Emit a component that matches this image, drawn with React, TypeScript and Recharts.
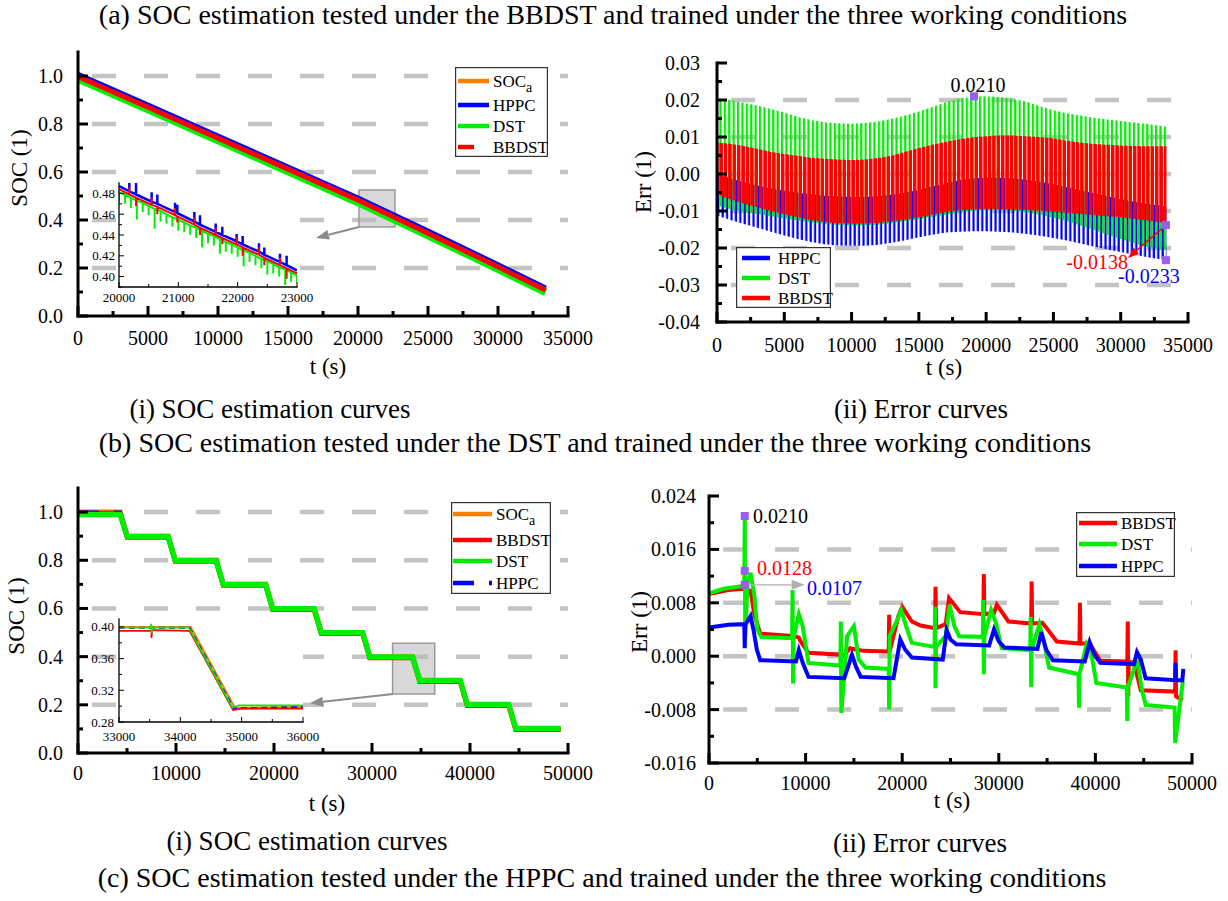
import React from 'react';
import {
  ComposedChart,
  Line,
  Area,
  XAxis,
  YAxis,
  CartesianGrid,
  ReferenceArea,
  ReferenceLine,
  ReferenceDot,
} from 'recharts';

const FONT = '"Liberation Serif", "Times New Roman", serif';
const C = { soc: '#ff8000', hppc: '#0000ff', dst: '#00ee00', bbdst: '#ff0000', mark: '#9b5cf0', gray: '#8c8c8c' };

// ---------- (a)(i) SOC curves, BBDST test ----------
const a1T = [0, 5000, 10000, 15000, 20000, 25000, 30000, 33400];
const a1Soc = [1.0, 0.872, 0.743, 0.614, 0.485, 0.347, 0.207, 0.11];
const a1Hppc = [1.007, 0.879, 0.75, 0.621, 0.492, 0.354, 0.214, 0.117];
const a1Dst = [0.988, 0.86, 0.731, 0.602, 0.473, 0.335, 0.195, 0.098];
const a1Bbdst = [0.998, 0.87, 0.741, 0.612, 0.483, 0.345, 0.205, 0.108];

// inset 20000-23000 s
const in1SpikeT = [20000, 20174, 20287, 20550, 20646, 20944, 20983, 21270, 21365, 21629, 21741, 21983, 22084, 22359, 22449, 22713, 22825, 23000];
const in1HppcBase = [0.487, 0.482, 0.479, 0.472, 0.47, 0.462, 0.461, 0.453, 0.45, 0.443, 0.44, 0.434, 0.431, 0.424, 0.421, 0.414, 0.411, 0.406];
const in1HppcTip = [0.487, 0.491, 0.49, 0.481, 0.479, 0.471, 0.469, 0.462, 0.459, 0.451, 0.448, 0.441, 0.439, 0.432, 0.428, 0.422, 0.42, 0.406];
const in1BbdstBase = [0.484, 0.479, 0.476, 0.469, 0.467, 0.459, 0.458, 0.45, 0.447, 0.44, 0.437, 0.431, 0.428, 0.421, 0.418, 0.411, 0.408, 0.403];
const in1BbdstTip = [0.484, 0.486, 0.468, 0.476, 0.46, 0.466, 0.452, 0.457, 0.44, 0.447, 0.431, 0.438, 0.42, 0.428, 0.411, 0.418, 0.398, 0.403];
const in1DstT = [20000, 20100, 20200, 20300, 20400, 20500, 20600, 20700, 20800, 20900, 21000, 21100, 21200, 21300, 21400, 21500, 21600, 21700, 21800, 21900, 22000, 22100, 22200, 22300, 22400, 22500, 22600, 22700, 22800, 22900, 23000];
const in1DstBase = [0.481, 0.479, 0.476, 0.473, 0.471, 0.468, 0.465, 0.463, 0.46, 0.457, 0.455, 0.452, 0.449, 0.447, 0.444, 0.441, 0.439, 0.436, 0.433, 0.431, 0.428, 0.425, 0.423, 0.42, 0.417, 0.415, 0.412, 0.409, 0.407, 0.404, 0.401];
const in1DstTip = [0.472, 0.47, 0.466, 0.455, 0.462, 0.459, 0.446, 0.453, 0.451, 0.448, 0.444, 0.443, 0.44, 0.437, 0.428, 0.432, 0.43, 0.422, 0.424, 0.422, 0.419, 0.41, 0.414, 0.411, 0.408, 0.402, 0.403, 0.4, 0.392, 0.395, 0.394];

// ---------- (a)(ii) error curves: upper / lower envelope of each oscillating trace ----------
const a2T = [0, 1000, 2000, 3000, 4000, 5000, 6000, 7000, 8000, 9000, 10000, 11000, 12000, 13000, 14000, 15000, 16000, 17000, 18000, 19000, 20000, 21000, 22000, 23000, 24000, 25000, 26000, 27000, 28000, 29000, 30000, 31000, 32000, 33400];
const a2HppcHi = [0.0, -0.0012, -0.0022, -0.0031, -0.0039, -0.0045, -0.0051, -0.0055, -0.0059, -0.0061, -0.0062, -0.0062, -0.006, -0.0056, -0.005, -0.0043, -0.0034, -0.0025, -0.0017, -0.0012, -0.001, -0.001, -0.0012, -0.0016, -0.0021, -0.0028, -0.0036, -0.0044, -0.0052, -0.006, -0.0068, -0.0075, -0.0081, -0.0088];
const a2HppcLo = [-0.0112, -0.0124, -0.0135, -0.0145, -0.0156, -0.0166, -0.0176, -0.0184, -0.019, -0.0193, -0.0194, -0.0194, -0.0191, -0.0186, -0.0179, -0.0171, -0.0164, -0.0158, -0.0156, -0.0155, -0.0155, -0.0156, -0.0158, -0.0162, -0.0167, -0.0173, -0.018, -0.0188, -0.0196, -0.0204, -0.0211, -0.0218, -0.0225, -0.0233];
const a2DstHi = [0.0205, 0.02, 0.0192, 0.0185, 0.0176, 0.0166, 0.0155, 0.0146, 0.014, 0.0137, 0.0136, 0.0138, 0.0142, 0.0149, 0.0158, 0.0169, 0.0181, 0.0194, 0.0204, 0.0209, 0.021, 0.0208, 0.0203, 0.0195, 0.0183, 0.0172, 0.0164, 0.0158, 0.0152, 0.0147, 0.0143, 0.0139, 0.0135, 0.0128];
const a2DstLo = [-0.0085, -0.0095, -0.0102, -0.0108, -0.0114, -0.012, -0.0126, -0.0131, -0.0135, -0.0138, -0.0139, -0.0139, -0.0137, -0.0133, -0.0128, -0.0122, -0.0116, -0.011, -0.0104, -0.01, -0.0098, -0.0098, -0.01, -0.0104, -0.011, -0.0118, -0.0128, -0.0139, -0.0151, -0.0164, -0.0176, -0.0187, -0.0197, -0.0206];
const a2BbdstHi = [0.0085, 0.0082, 0.0076, 0.0068, 0.006, 0.0054, 0.0049, 0.0044, 0.0041, 0.0039, 0.0038, 0.0039, 0.0043, 0.005, 0.006, 0.007, 0.0079, 0.0087, 0.0094, 0.0099, 0.0102, 0.0104, 0.0104, 0.0102, 0.01, 0.0096, 0.009, 0.0085, 0.0081, 0.0079, 0.0077, 0.0076, 0.0075, 0.0075];
const a2BbdstLo = [-0.0055, -0.0068, -0.008, -0.009, -0.01, -0.0109, -0.0117, -0.0124, -0.013, -0.0133, -0.0134, -0.0134, -0.0132, -0.0128, -0.0123, -0.0117, -0.011, -0.0103, -0.0098, -0.0095, -0.0094, -0.0095, -0.0096, -0.0097, -0.0099, -0.0102, -0.0105, -0.0108, -0.0111, -0.0114, -0.0117, -0.0121, -0.0126, -0.0133];

// ---------- (b)(i) SOC curves, DST test ----------
const b1T = [0, 4300, 5020, 9200, 9920, 14100, 14820, 19150, 19870, 24100, 24820, 29050, 29770, 34150, 34870, 39000, 39720, 43950, 44670, 49250];
const b1Soc = [1.0, 1.0, 0.9, 0.9, 0.8, 0.8, 0.7, 0.7, 0.6, 0.6, 0.5, 0.5, 0.4, 0.4, 0.3, 0.3, 0.2, 0.2, 0.1, 0.1];
const b1Bbdst = [0.995, 0.995, 0.896, 0.896, 0.796, 0.796, 0.696, 0.696, 0.596, 0.596, 0.496, 0.496, 0.395, 0.395, 0.297, 0.297, 0.197, 0.197, 0.098, 0.098];
const b1Dst = [0.99, 0.99, 0.899, 0.899, 0.799, 0.799, 0.699, 0.699, 0.599, 0.599, 0.499, 0.499, 0.399, 0.399, 0.301, 0.301, 0.201, 0.201, 0.102, 0.102];
const b1Hppc = [0.998, 0.998, 0.901, 0.901, 0.801, 0.801, 0.701, 0.701, 0.601, 0.601, 0.501, 0.501, 0.399, 0.399, 0.299, 0.299, 0.201, 0.201, 0.101, 0.101];

// inset 33000-36000 s
const in2Soc: [number, number][] = [[33000, 0.4], [34170, 0.4], [34890, 0.298], [36000, 0.299]];
const in2Hppc: [number, number][] = [[33000, 0.399], [34150, 0.399], [34870, 0.297], [36000, 0.299]];
const in2Bbdst: [number, number][] = [[33000, 0.395], [33530, 0.395], [33530, 0.386], [33540, 0.396], [34150, 0.395], [34860, 0.295], [35000, 0.297], [36000, 0.297]];
const in2Dst: [number, number][] = [[33000, 0.399], [33520, 0.399], [33525, 0.404], [33535, 0.392], [33545, 0.399], [34140, 0.399], [34850, 0.298], [34950, 0.301], [36000, 0.301]];

// ---------- (b)(ii) error curves ----------
const b2Bbdst: [number, number][] = [
  [0, 0.0093], [2000, 0.0099], [3600, 0.0101], [4300, 0.0098], [4700, 0.0062], [5300, 0.0034], [8900, 0.003], [9300, 0.0028],
  [9500, 0.0022], [10300, 0.0005], [14000, 0.0002], [14600, 0.0012], [15200, 0.001], [16000, 0.0008], [18600, 0.0007],
  [18650, 0.0062], [18700, 0.0007], [19600, 0.006], [20000, 0.0074], [21000, 0.0052], [21900, 0.0046], [23400, 0.0042],
  [23450, 0.0104], [23500, 0.0042], [24500, 0.0048], [24850, 0.0087], [26000, 0.0066], [28400, 0.0063], [28450, 0.0123],
  [28500, 0.0063], [29500, 0.0065], [29800, 0.0077], [31000, 0.0052], [33350, 0.0049], [33400, 0.0112], [33450, 0.0049],
  [34500, 0.005], [34800, 0.0045], [36000, 0.0022], [38350, 0.0019], [38400, 0.008], [38450, 0.0019], [39100, 0.0019],
  [39500, 0.0017], [40500, -0.0007], [43300, -0.0008], [43350, 0.0052], [43400, -0.006], [43450, -0.0008], [44000, -0.001],
  [44700, -0.0051], [48250, -0.0053], [48300, 0.0009], [48350, -0.006], [49050, -0.0066],
];
const b2Dst: [number, number][] = [
  [0, 0.0094], [1500, 0.0101], [3500, 0.0105], [3650, 0.0105], [3700, 0.021], [3750, 0.003], [4000, 0.011], [4300, 0.0125],
  [4700, 0.009], [5000, 0.004], [5400, 0.0029], [8600, 0.0027], [8650, 0.0099], [8700, -0.0041], [8750, 0.0027], [9300, 0.0063],
  [9700, 0.0045], [10300, -0.001], [13600, -0.0014], [13650, 0.0052], [13700, -0.0085], [14300, 0.003], [15000, 0.0045],
  [15500, -0.0005], [16200, -0.0017], [18600, -0.0019], [18650, -0.008], [18700, 0.003], [19500, 0.0055], [19900, 0.0069],
  [20400, 0.0045], [21000, 0.002], [23350, 0.0014], [23400, 0.0074], [23450, -0.0048], [23500, 0.0014], [24500, 0.003],
  [24900, 0.0077], [25400, 0.0045], [25900, 0.003], [28350, 0.0029], [28400, 0.0084], [28450, -0.0027], [28500, 0.0029],
  [29200, 0.0069], [29700, 0.005], [30300, 0.0012], [33250, 0.0009], [33300, 0.0059], [33350, -0.0046], [33400, 0.0009],
  [34200, 0.0048], [34700, 0.002], [35200, -0.0017], [38250, -0.0027], [38300, -0.0077], [38350, -0.0027], [39100, 0.0019],
  [39500, 0.001], [40100, -0.004], [43250, -0.0047], [43300, -0.0097], [43350, -0.0047], [44100, -0.0015], [44400, -0.001],
  [44800, -0.005], [45200, -0.0073], [48200, -0.0077], [48250, -0.013], [49050, -0.0038],
];
const b2Hppc: [number, number][] = [
  [0, 0.0043], [2000, 0.0047], [3650, 0.0048], [3700, 0.0012], [3750, 0.0047], [4300, 0.006], [4600, 0.004], [4950, 0.001],
  [5300, -0.0006], [9000, -0.0008], [9300, 0.0009], [9700, -0.001], [10300, -0.0031], [14000, -0.0033], [14800, 0.0002],
  [15200, -0.0015], [15700, -0.0031], [19100, -0.0033], [19800, 0.0025], [20300, 0.001], [21000, -0.0002], [24200, -0.0005],
  [24600, 0.0039], [25000, 0.0025], [25600, 0.0018], [29000, 0.0016], [29500, 0.004], [30000, 0.0022], [30600, 0.0013],
  [34000, 0.0011], [34400, 0.0036], [34900, 0.001], [35600, -0.0006], [38900, -0.0008], [39400, 0.0021], [39900, 0.0002],
  [40500, -0.001], [44000, -0.0012], [44300, 0.0006], [44700, -0.0005], [45200, -0.0033], [48250, -0.0036], [48300, -0.001],
  [48350, -0.0036], [49000, -0.0036], [49100, -0.0019],
];

// ---------- axes ----------
type Ax = { domain: [number, number]; ticks: number[]; majors: number[]; digits: number; gap: number };
const xA1: Ax = { domain: [0, 35000], ticks: [0, 2500, 5000, 7500, 10000, 12500, 15000, 17500, 20000, 22500, 25000, 27500, 30000, 32500, 35000], majors: [0, 5000, 10000, 15000, 20000, 25000, 30000, 35000], digits: 0, gap: 22 };
const yA1: Ax = { domain: [0, 1.1], ticks: [0, 0.1, 0.2, 0.3, 0.4, 0.5, 0.6, 0.7, 0.8, 0.9, 1.0], majors: [0, 0.2, 0.4, 0.6, 0.8, 1.0], digits: 1, gap: 15 };
const xA2: Ax = { ...xA1, gap: 23 };
const yA2: Ax = { domain: [-0.04, 0.03], ticks: [-0.04, -0.035, -0.03, -0.025, -0.02, -0.015, -0.01, -0.005, 0, 0.005, 0.01, 0.015, 0.02, 0.025, 0.03], majors: [-0.04, -0.03, -0.02, -0.01, 0, 0.01, 0.02, 0.03], digits: 2, gap: 17 };
const xB1: Ax = { domain: [0, 50000], ticks: [0, 5000, 10000, 15000, 20000, 25000, 30000, 35000, 40000, 45000, 50000], majors: [0, 10000, 20000, 30000, 40000, 50000], digits: 0, gap: 20 };
const yB1: Ax = { ...yA1 };
const xB2: Ax = { ...xB1 };
const yB2: Ax = { domain: [-0.016, 0.024], ticks: [-0.016, -0.012, -0.008, -0.004, 0, 0.004, 0.008, 0.012, 0.016, 0.02, 0.024], majors: [-0.016, -0.008, 0, 0.008, 0.016, 0.024], digits: 3, gap: 13 };
const xIn1: Ax = { domain: [20000, 23000], ticks: [20000, 20500, 21000, 21500, 22000, 22500, 23000], majors: [20000, 21000, 22000, 23000], digits: 0, gap: 10 };
const yIn1: Ax = { domain: [0.39, 0.49], ticks: [0.39, 0.4, 0.41, 0.42, 0.43, 0.44, 0.45, 0.46, 0.47, 0.48], majors: [0.4, 0.42, 0.44, 0.46, 0.48], digits: 2, gap: 4 };
const xIn2: Ax = { domain: [33000, 36000], ticks: [33000, 33500, 34000, 34500, 35000, 35500, 36000], majors: [33000, 34000, 35000, 36000], digits: 0, gap: 14 };
const yIn2: Ax = { domain: [0.28, 0.41], ticks: [0.28, 0.3, 0.32, 0.34, 0.36, 0.38, 0.4], majors: [0.28, 0.32, 0.36, 0.4], digits: 2, gap: 5 };

const gridSoc = [0.2, 0.4, 0.6, 0.8, 1.0];
const gridA2 = [0.02, 0.01, 0, -0.01, -0.02, -0.03];
const gridB2 = [0.016, 0.008, 0, -0.008];

// ---------- helpers ----------
type Pt = { t: number; v: number };
const zip = (t: number[], v: number[]): Pt[] => t.map((ti, i) => ({ t: ti, v: v[i] }));
const pairs = (p: [number, number][]): Pt[] => p.map(([t, v]) => ({ t, v }));
const spikes = (t: number[], base: number[], tip: number[]): Pt[] =>
  t.flatMap((ti, i) => [{ t: ti, v: base[i] }, { t: ti, v: tip[i] }, { t: ti, v: base[i] }]);
const band = (lo: number[], hi: number[]) => a2T.map((t, i) => ({ t, r: [lo[i], hi[i]] }));

type Sty = { frame: number; tw: number; major: number; minor: number; font: number };
const MAIN: Sty = { frame: 3, tw: 3, major: 10, minor: 5, font: 20 };
const INSET: Sty = { frame: 1.3, tw: 1, major: 5, minor: 3, font: 13 };

const isMajor = (ax: Ax, v: number) => ax.majors.some((m) => Math.abs(m - v) < 1e-9);

function tick(side: 'bottom' | 'top' | 'left' | 'right', ax: Ax, st: Sty) {
  return (p: any) => {
    const v = p.payload.value as number;
    const mj = isMajor(ax, v);
    const len = mj ? st.major : st.minor;
    const x = p.x as number;
    const y = p.y as number;
    const dx = side === 'left' ? len : side === 'right' ? -len : 0;
    const dy = side === 'bottom' ? -len : side === 'top' ? len : 0;
    const ts = { fontFamily: FONT, fontSize: st.font };
    let label: React.ReactNode = null;
    if (mj && side === 'bottom')
      label = (
        <text x={x} y={y + ax.gap} dy="0.35em" textAnchor="middle" style={ts} fill="#000">
          {v.toFixed(ax.digits)}
        </text>
      );
    if (mj && side === 'left')
      label = (
        <text x={x - ax.gap} y={y} dy="0.35em" textAnchor="end" style={ts} fill="#000">
          {v.toFixed(ax.digits)}
        </text>
      );
    return (
      <g>
        <line x1={x} y1={y} x2={x + dx} y2={y + dy} stroke="#000" strokeWidth={st.tw} />
        {label}
      </g>
    );
  };
}

function Panel(props: {
  box: [number, number, number, number];
  x: Ax;
  y: Ax;
  st: Sty;
  grid?: number[];
  white?: boolean;
  children?: React.ReactNode;
}) {
  const [left, top, w, h] = props.box;
  const { x, y, st } = props;
  const L = 90, R = 44, T = 14, B = 44;
  const line = { stroke: '#000', strokeWidth: st.frame, strokeLinecap: 'square' as const };
  return (
    <div style={{ position: 'absolute', left: left - L, top: top - T, width: w + L + R, height: h + T + B }}>
      {props.white && <div style={{ position: 'absolute', left: L, top: T, width: w, height: h, background: '#fff' }} />}
      <div style={{ position: 'absolute', left: 0, top: 0 }}>
        <ComposedChart width={w + L + R} height={h + T + B} margin={{ top: T, right: R, bottom: 0, left: 0 }}>
          {props.grid && (
            <CartesianGrid
              vertical={false}
              horizontalValues={props.grid}
              stroke="#c4c4c4"
              strokeWidth={4.5}
              strokeDasharray="24 28"
              strokeDashoffset={38}
            />
          )}
          <XAxis dataKey="t" type="number" domain={x.domain} ticks={x.ticks} interval={0} tickSize={0} tickMargin={0} height={B} axisLine={line} tickLine={false} tick={tick('bottom', x, st)} allowDataOverflow />
          <XAxis xAxisId="top" orientation="top" dataKey="t" type="number" domain={x.domain} ticks={x.ticks} interval={0} tickSize={0} tickMargin={0} height={0} axisLine={line} tickLine={false} tick={tick('top', x, st)} allowDataOverflow />
          <YAxis type="number" domain={y.domain} ticks={y.ticks} interval={0} tickSize={0} tickMargin={0} width={L} axisLine={line} tickLine={false} tick={tick('left', y, st)} allowDataOverflow />
          <YAxis yAxisId="right" orientation="right" type="number" domain={y.domain} ticks={y.ticks} interval={0} tickSize={0} tickMargin={0} width={0} axisLine={line} tickLine={false} tick={tick('right', y, st)} allowDataOverflow />
          {props.children}
        </ComposedChart>
      </div>
    </div>
  );
}

function series(key: string, data: Pt[], color: string, width: number, dash?: string) {
  return (
    <Line
      key={key}
      data={data}
      dataKey="v"
      type="linear"
      stroke={color}
      strokeWidth={width}
      strokeDasharray={dash}
      dot={false}
      activeDot={false}
      isAnimationActive={false}
    />
  );
}

// oscillating trace drawn as its envelope, filled with vertical stripes
function stripes(key: string, lo: number[], hi: number[], pattern: string) {
  return (
    <Area
      key={key}
      data={band(lo, hi)}
      dataKey="r"
      type="linear"
      stroke="none"
      fill={`url(#${pattern})`}
      fillOpacity={1}
      dot={false}
      activeDot={false}
      isAnimationActive={false}
    />
  );
}

const arrowShape = (color: string, w: number, head: number) => (p: any) => {
  const { x1, y1, x2, y2 } = p;
  const a = Math.atan2(y2 - y1, x2 - x1);
  const hx = x2 - head * Math.cos(a);
  const hy = y2 - head * Math.sin(a);
  const nx = -Math.sin(a) * head * 0.38;
  const ny = Math.cos(a) * head * 0.38;
  return (
    <g>
      <line x1={x1} y1={y1} x2={hx} y2={hy} stroke={color} strokeWidth={w} />
      <polygon points={`${x2},${y2} ${hx + nx},${hy + ny} ${hx - nx},${hy - ny}`} fill={color} />
    </g>
  );
};

function arrow(key: string, from: [number, number], to: [number, number], color: string, w: number, head: number) {
  return (
    <ReferenceLine
      key={key}
      segment={[{ x: from[0], y: from[1] }, { x: to[0], y: to[1] }]}
      shape={arrowShape(color, w, head)}
      ifOverflow="visible"
    />
  );
}

function square(key: string, x: number, y: number) {
  return (
    <ReferenceDot
      key={key}
      x={x}
      y={y}
      r={4}
      ifOverflow="visible"
      shape={(p: any) => <rect x={p.cx - 4} y={p.cy - 4} width={8} height={8} fill={C.mark} />}
    />
  );
}

function note(key: string, x: number, y: number, text: string, color: string, anchor: 'start' | 'middle' | 'end') {
  return (
    <ReferenceDot
      key={key}
      x={x}
      y={y}
      r={0}
      ifOverflow="visible"
      shape={(p: any) => (
        <text x={p.cx} y={p.cy} dy="0.35em" textAnchor={anchor} fill={color} style={{ fontFamily: FONT, fontSize: 20 }}>
          {text}
        </text>
      )}
    />
  );
}

type LegItem = { name: string; sub?: string; color: string; dash?: string; y: number; x0: number; x1: number };
function LegendBox(props: { box: [number, number, number, number]; tx: number; items: LegItem[] }) {
  const [l, t, w, h] = props.box;
  return (
    <svg style={{ position: 'absolute', left: l, top: t, overflow: 'visible' }} width={w} height={h}>
      <rect x={0.6} y={0.6} width={w - 1.2} height={h - 1.2} fill="#fff" stroke="#333" strokeWidth={1.2} />
      {props.items.map((it) => (
        <g key={it.name}>
          <line x1={it.x0 - l} x2={it.x1 - l} y1={it.y - t} y2={it.y - t} stroke={it.color} strokeWidth={4.5} strokeDasharray={it.dash} />
          <text x={props.tx - l} y={it.y - t} dy="0.35em" style={{ fontFamily: FONT, fontSize: 17 }} fill="#000">
            {it.name}
            {it.sub && (
              <tspan dy={5} style={{ fontSize: 14 }}>
                {it.sub}
              </tspan>
            )}
          </text>
        </g>
      ))}
    </svg>
  );
}

function Txt(props: { x: number; y: number; size: number; rotate?: boolean; children: React.ReactNode }) {
  return (
    <div
      style={{
        position: 'absolute',
        left: props.x,
        top: props.y,
        transform: `translate(-50%, -50%)${props.rotate ? ' rotate(-90deg)' : ''}`,
        whiteSpace: 'nowrap',
        fontSize: props.size,
        fontFamily: FONT,
        lineHeight: 1,
        color: '#000',
      }}
    >
      {props.children}
    </div>
  );
}

export default function App() {
  return (
    <div style={{ position: 'absolute', left: 0, top: 0, width: 1228, height: 901, background: '#fff', overflow: 'hidden', fontFamily: FONT }}>
      <svg width={0} height={0} style={{ position: 'absolute' }}>
        <defs>
          <pattern id="stGreen" patternUnits="userSpaceOnUse" width={4.4} height={20}>
            <rect x={0} y={0} width={2.2} height={20} fill={C.dst} />
          </pattern>
          <pattern id="stBlue" patternUnits="userSpaceOnUse" width={4.4} height={20}>
            <rect x={2.2} y={0} width={2.2} height={20} fill={C.hppc} />
          </pattern>
          <pattern id="stRed" patternUnits="userSpaceOnUse" width={4.4} height={20}>
            <rect x={0} y={0} width={3.5} height={20} fill={C.bbdst} />
          </pattern>
        </defs>
      </svg>

      <Txt x={613} y={15} size={28}>(a) SOC estimation tested under the BBDST and trained under the three working conditions</Txt>

      {/* (a)(i) */}
      <Panel box={[78, 52, 490, 264]} x={xA1} y={yA1} st={MAIN} grid={gridSoc}>
        {series('soc', zip(a1T, a1Soc), C.soc, 4)}
        {series('hppc', zip(a1T, a1Hppc), C.hppc, 5)}
        {series('dst', zip(a1T, a1Dst), C.dst, 7.5)}
        {series('bbdst', zip(a1T, a1Bbdst), C.bbdst, 5)}
        <ReferenceArea x1={20070} x2={22640} y1={0.371} y2={0.525} fill="#b8b8b8" fillOpacity={0.55} stroke="#999" strokeWidth={1.5} ifOverflow="visible" />
        {arrow('ar', [20070, 0.371], [17000, 0.325], C.gray, 2, 13)}
      </Panel>
      <Panel box={[119, 183, 178, 104]} x={xIn1} y={yIn1} st={INSET} white>
        {series('hppc', spikes(in1SpikeT, in1HppcBase, in1HppcTip), C.hppc, 2.5)}
        {series('dst', spikes(in1DstT, in1DstBase, in1DstTip), C.dst, 2)}
        {series('bbdst', spikes(in1SpikeT, in1BbdstBase, in1BbdstTip), C.bbdst, 2)}
      </Panel>
      <LegendBox
        box={[455, 67, 93, 90]}
        tx={493}
        items={[
          { name: 'SOC', sub: 'a', color: C.soc, y: 81, x0: 458, x1: 489 },
          { name: 'HPPC', color: C.hppc, y: 105, x0: 458, x1: 489 },
          { name: 'DST', color: C.dst, y: 126, x0: 458, x1: 489 },
          { name: 'BBDST', color: C.bbdst, y: 147, x0: 458, x1: 474 },
        ]}
      />
      <Txt x={19} y={168} size={23} rotate>SOC (1)</Txt>
      <Txt x={328} y={366} size={23}>t (s)</Txt>

      {/* (a)(ii) */}
      <Panel box={[717, 63, 471, 259]} x={xA2} y={yA2} st={MAIN} grid={gridA2}>
        {stripes('hppc', a2HppcLo, a2HppcHi, 'stBlue')}
        {stripes('dst', a2DstLo, a2DstHi, 'stGreen')}
        {stripes('bbdst', a2BbdstLo, a2BbdstHi, 'stRed')}
        {square('s1', 19100, 0.021)}
        {square('s2', 33360, -0.0138)}
        {square('s3', 33360, -0.0233)}
        {arrow('ar', [33360, -0.0138], [30540, -0.0227], C.bbdst, 1.5, 11)}
        {note('n1', 19390, 0.024, '0.0210', '#000', 'middle')}
        {note('n2', 30540, -0.0238, '-0.0138', C.bbdst, 'end')}
        {note('n3', 29800, -0.0276, '-0.0233', C.hppc, 'start')}
      </Panel>
      <LegendBox
        box={[736, 247, 95, 61]}
        tx={778}
        items={[
          { name: 'HPPC', color: C.hppc, y: 258, x0: 742, x1: 770 },
          { name: 'DST', color: C.dst, y: 278, x0: 742, x1: 770 },
          { name: 'BBDST', color: C.bbdst, y: 298, x0: 742, x1: 770 },
        ]}
      />
      <Txt x={643} y={182} size={23} rotate>Err (1)</Txt>
      <Txt x={944} y={367} size={23}>t (s)</Txt>

      <Txt x={270} y={409} size={27}>(i) SOC estimation curves</Txt>
      <Txt x={921} y={409} size={27}>(ii) Error curves</Txt>
      <Txt x={595} y={443} size={28}>(b) SOC estimation tested under the DST and trained under the three working conditions</Txt>

      {/* (b)(i) */}
      <Panel box={[78, 488, 490, 265]} x={xB1} y={yB1} st={MAIN} grid={gridSoc}>
        {series('soc', zip(b1T, b1Soc), C.soc, 5)}
        {series('bbdst', zip(b1T, b1Bbdst), C.bbdst, 5)}
        {series('hppc', zip(b1T, b1Hppc), C.hppc, 4, '21 15')}
        {series('dst', zip(b1T, b1Dst), C.dst, 5.5)}
        <ReferenceArea x1={32100} x2={36400} y1={0.245} y2={0.456} fill="#b8b8b8" fillOpacity={0.55} stroke="#999" strokeWidth={1.5} ifOverflow="visible" />
        {arrow('ar', [32140, 0.245], [23670, 0.207], C.gray, 2, 13)}
      </Panel>
      <Panel box={[119, 619, 184, 103]} x={xIn2} y={yIn2} st={INSET} white>
        {series('soc', pairs(in2Soc), C.soc, 2)}
        {series('hppc', pairs(in2Hppc), C.hppc, 2, '6 4')}
        {series('bbdst', pairs(in2Bbdst), C.bbdst, 1.8)}
        {series('dst', pairs(in2Dst), C.dst, 1.8)}
      </Panel>
      <LegendBox
        box={[451, 502, 100, 92]}
        tx={496}
        items={[
          { name: 'SOC', sub: 'a', color: C.soc, y: 514, x0: 453, x1: 492 },
          { name: 'BBDST', color: C.bbdst, y: 540, x0: 453, x1: 492 },
          { name: 'DST', color: C.dst, y: 561, x0: 453, x1: 492 },
          { name: 'HPPC', color: C.hppc, dash: '21 15', y: 583, x0: 453, x1: 492 },
        ]}
      />
      <Txt x={16} y={616} size={23} rotate>SOC (1)</Txt>
      <Txt x={327} y={803} size={23}>t (s)</Txt>

      {/* (b)(ii) */}
      <Panel box={[709, 496, 483, 267]} x={xB2} y={yB2} st={MAIN} grid={gridB2}>
        {series('bbdst', pairs(b2Bbdst), C.bbdst, 4)}
        {series('dst', pairs(b2Dst), C.dst, 4)}
        {series('hppc', pairs(b2Hppc), C.hppc, 4)}
        {arrow('ar', [3700, 0.0107], [9900, 0.0107], '#b0b0b0', 1.3, 13)}
        {square('s1', 3700, 0.021)}
        {square('s2', 3700, 0.0128)}
        {square('s3', 3700, 0.0107)}
        {note('n1', 4555, 0.021, '0.0210', '#000', 'start')}
        {note('n2', 4970, 0.0132, '0.0128', C.bbdst, 'start')}
        {note('n3', 10150, 0.0102, '0.0107', C.hppc, 'start')}
      </Panel>
      <LegendBox
        box={[1076, 512, 99, 65]}
        tx={1121}
        items={[
          { name: 'BBDST', color: C.bbdst, y: 523, x0: 1079, x1: 1117 },
          { name: 'DST', color: C.dst, y: 544, x0: 1079, x1: 1117 },
          { name: 'HPPC', color: C.hppc, y: 566, x0: 1079, x1: 1117 },
        ]}
      />
      <Txt x={639} y={622} size={23} rotate>Err (1)</Txt>
      <Txt x={952} y={800} size={23}>t (s)</Txt>

      <Txt x={307} y={841} size={27}>(i) SOC estimation curves</Txt>
      <Txt x={920} y={843} size={27}>(ii) Error curves</Txt>
      <Txt x={602} y={878} size={28}>(c) SOC estimation tested under the HPPC and trained under the three working conditions</Txt>
    </div>
  );
}
